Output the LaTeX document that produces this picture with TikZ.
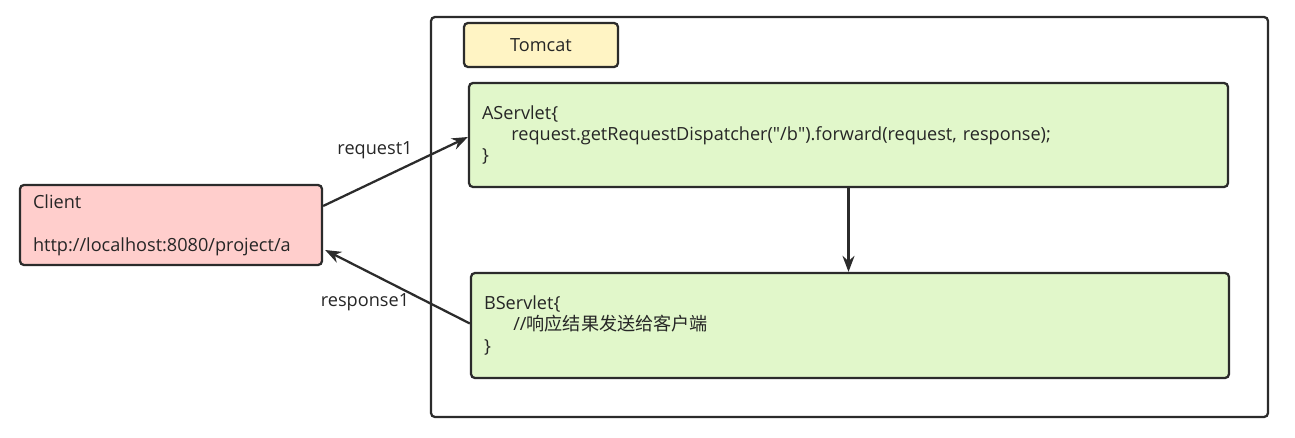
\documentclass[tikz,border=0pt]{standalone}
\usepackage{fontspec}
\setmainfont{Open Sans}
\newfontfamily\cjk{Noto Sans CJK SC}
\usetikzlibrary{arrows.meta,calc}
\definecolor{linec}{HTML}{2B2B2B}
\definecolor{pinkf}{HTML}{FFCECC}
\definecolor{yellowf}{HTML}{FFF4C4}
\definecolor{greenf}{HTML}{E1F7CA}
\definecolor{textc}{HTML}{262626}
\begin{document}
\begin{tikzpicture}[x=0.75pt,y=-0.75pt,
  box/.style={draw=linec,line width=1.7pt,rounded corners=3pt,inner xsep=9.75pt,inner ysep=0pt,
    align=left,font=\fontsize{13.6}{16}\selectfont,text=textc},
  lbl/.style={font=\fontsize{13.6}{16}\selectfont,text=textc,inner sep=1pt},
  conn/.style={draw=linec,line width=1.7pt,-{Stealth[length=12pt,width=9pt]}}]
\useasboundingbox (0,0) rectangle (1295,438);
\node[box,fill=white,minimum width=627.75pt,minimum height=300pt] (tomcatbox) at (849.5,217) {};
\node[box,fill=yellowf,minimum width=115.5pt,minimum height=33pt,align=center,inner xsep=0pt] (tomcat) at (541,45) {Tomcat};
\node[box,fill=pinkf,minimum width=226.5pt,minimum height=60pt,text width=207pt] (client) at (171,225)
  {Client\\[0pt]\mbox{}\\http://localhost:8080/project/a};
\node[box,fill=greenf,minimum width=569.25pt,minimum height=78pt,text width=549.75pt] (aserv) at (848.5,135)
  {AServlet\{\\\hspace*{22pt}request.getRequestDispatcher(\textquotedbl/b\textquotedbl).forward(request, response);\\\}};
\node[box,fill=greenf,minimum width=568.5pt,minimum height=78.75pt,text width=549pt] (bserv) at (850,325.5)
  {BServlet\{\\\hspace*{22pt}//{\cjk 响应结果发送给客户端}\\\}};
\node[lbl] (req) at (375,150) {request1};
\node[lbl] (resp) at (365,302) {response1};
\draw[conn] ($(client.east)+(0,-19)$) -- ($(aserv.west)+(0,2)$);
\draw[conn] ($(bserv.west)+(0,-2)$) -- ($(client.east)+(2,25)$);
\draw[conn] (aserv.south) -- (aserv.south |- bserv.north);
\end{tikzpicture}
\end{document}
